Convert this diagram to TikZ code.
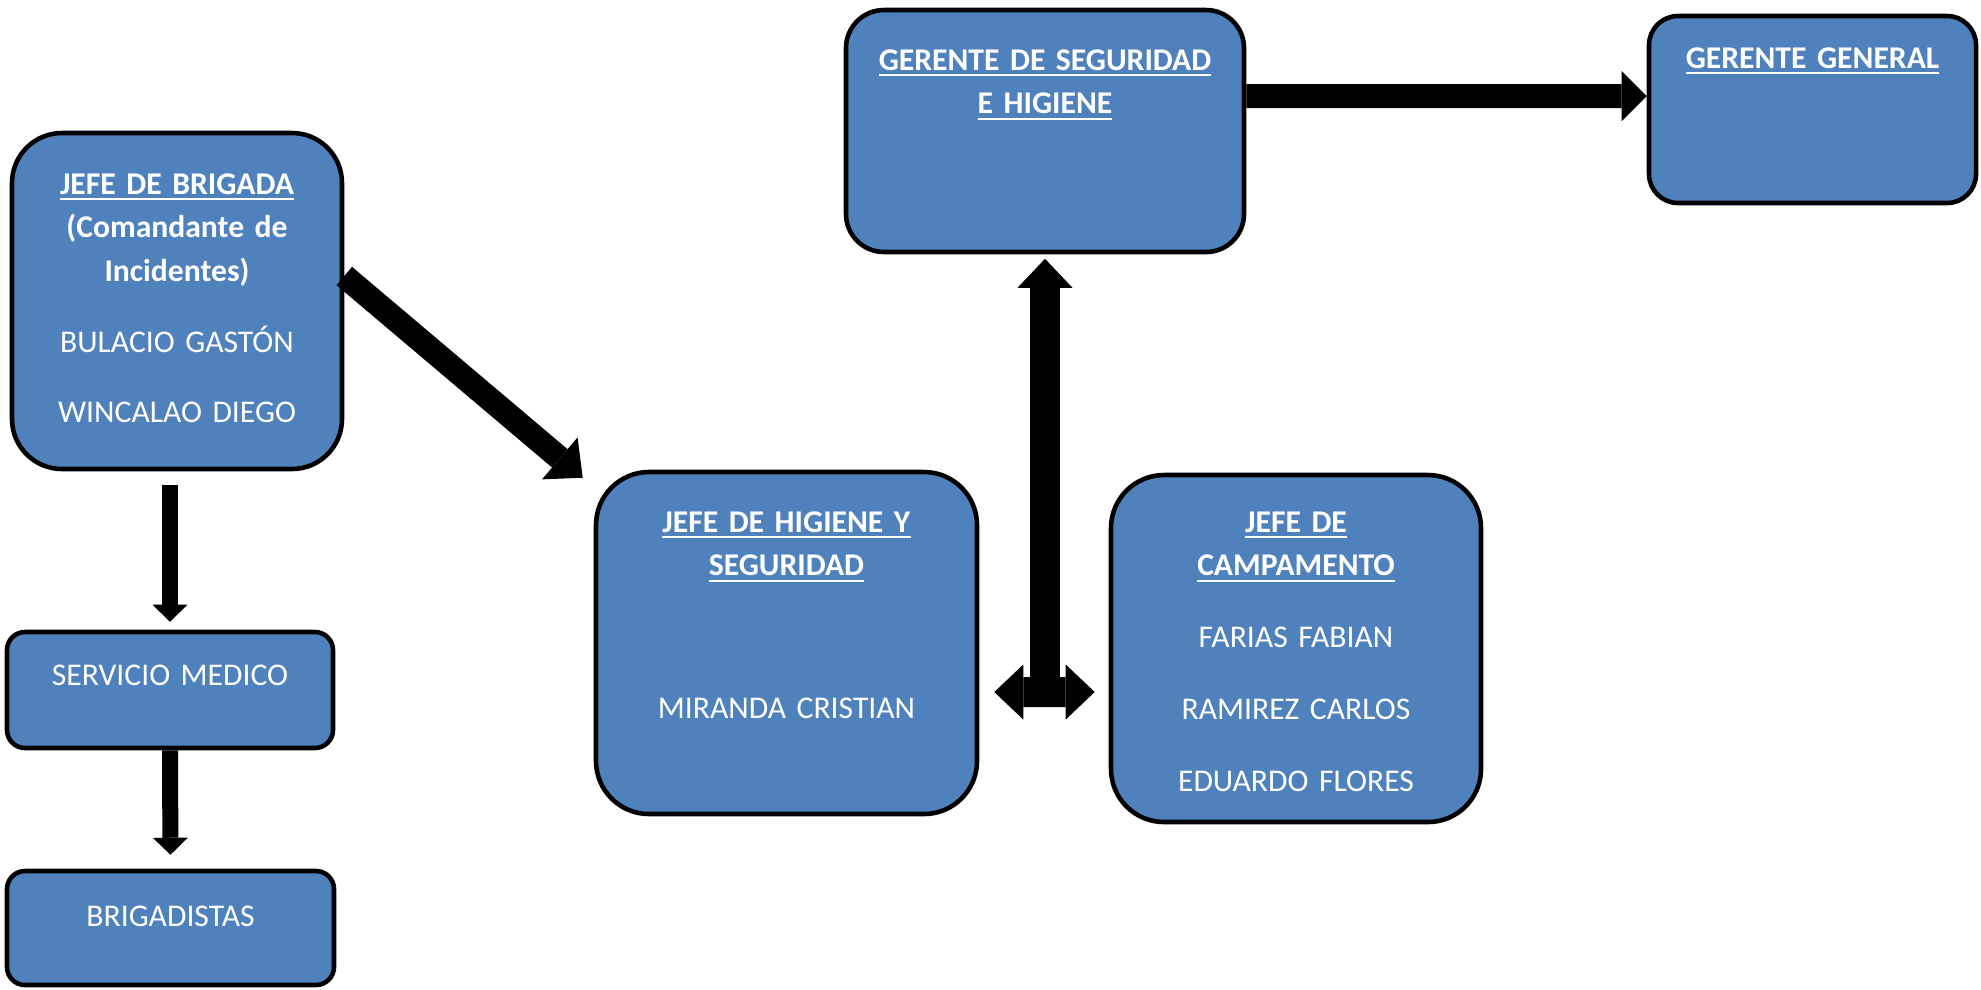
\documentclass[tikz,border=0pt]{standalone}
\usepackage{fontspec}
\setmainfont{Carlito}
\usetikzlibrary{arrows.meta}
\definecolor{azul}{HTML}{4F81BD}
\newcommand{\tit}[1]{\underline{\textbf{#1}}}

\begin{document}
\begin{tikzpicture}[
    caja/.style={draw=black, line width=1.3pt, fill=azul, text=white, inner sep=0pt, align=center, font=\fontsize{9}{12.5}\selectfont},
    flecha/.style n args={3}{line width=#1, -{Triangle[width=#2, length=#3, line width'=0pt]}},
    doble/.style n args={3}{line width=#1, {Triangle[width=#2, length=#3, line width'=0pt]}-{Triangle[width=#2, length=#3, line width'=0pt]}}
]
    \useasboundingbox (0,0) rectangle (19.81,-9.89);

    \node[caja, rounded corners=0.5cm, text width=3.30cm, text height=0.61cm, text depth=2.75cm] (brig) at (1.77,-3.01) {\tit{JEFE DE BRIGADA}\\ \textbf{(Comandante de}\\ \textbf{Incidentes)}\\[7.5pt] BULACIO GASTÓN\\[7.5pt] WINCALAO DIEGO};
    \node[caja, rounded corners=0.18cm, text width=3.26cm, text height=0.53cm, text depth=0.63cm] (serv) at (1.70,-6.90) {SERVICIO MEDICO};
    \node[caja, rounded corners=0.18cm, text width=3.27cm, text height=0.55cm, text depth=0.59cm] (briga) at (1.705,-9.28) {BRIGADISTAS};
    \node[caja, rounded corners=0.38cm, text width=3.98cm, text height=0.60cm, text depth=1.82cm] (ger) at (10.45,-1.31) {\tit{GERENTE DE SEGURIDAD}\\ \tit{E HIGIENE}};
    \node[caja, rounded corners=0.29cm, text width=3.27cm, text height=0.52cm, text depth=1.35cm] (gg) at (18.125,-1.095) {\tit{GERENTE GENERAL}};
    \node[caja, rounded corners=0.53cm, text width=3.81cm, text height=0.60cm, text depth=2.82cm] (hig) at (7.865,-6.43) {\tit{JEFE DE HIGIENE Y}\\ \tit{SEGURIDAD}\\[28pt] MIRANDA CRISTIAN};
    \node[caja, rounded corners=0.53cm, text width=3.70cm, text height=0.57cm, text depth=2.90cm] (camp) at (12.96,-6.485) {\tit{JEFE DE}\\ \tit{CAMPAMENTO}\\[7.9pt] FARIAS FABIAN\\[7.9pt] RAMIREZ CARLOS\\[7.9pt] EDUARDO FLORES};

    \coordinate (cruce) at (10.45,-6.92);

    \draw[flecha={0.24cm}{0.50cm}{0.25cm}] ([yshift=3.5mm]ger.east) -- ([yshift=1.35mm]gg.west);
    \draw[flecha={0.24cm}{0.55cm}{0.30cm}] ([yshift=2.5mm]brig.east) -- ([shift={(-0.11,-0.08)}]hig.north west);
    \draw[flecha={0.16cm}{0.35cm}{0.17cm}, shorten <=0.14cm, shorten >=0.08cm] (brig.south -| serv.north) -- (serv.north);
    \draw[flecha={0.16cm}{0.35cm}{0.17cm}, shorten >=0.14cm] (serv.south) -- (briga.north);
    \draw[doble={0.30cm}{0.55cm}{0.29cm}, shorten <=0.15cm, shorten >=0.14cm] ([yshift=-4.9mm]hig.east) -- ([yshift=-4.35mm]camp.west);
    \draw[flecha={0.30cm}{0.55cm}{0.29cm}, shorten >=0.045cm] (cruce) -- (ger.south);
\end{tikzpicture}
\end{document}
